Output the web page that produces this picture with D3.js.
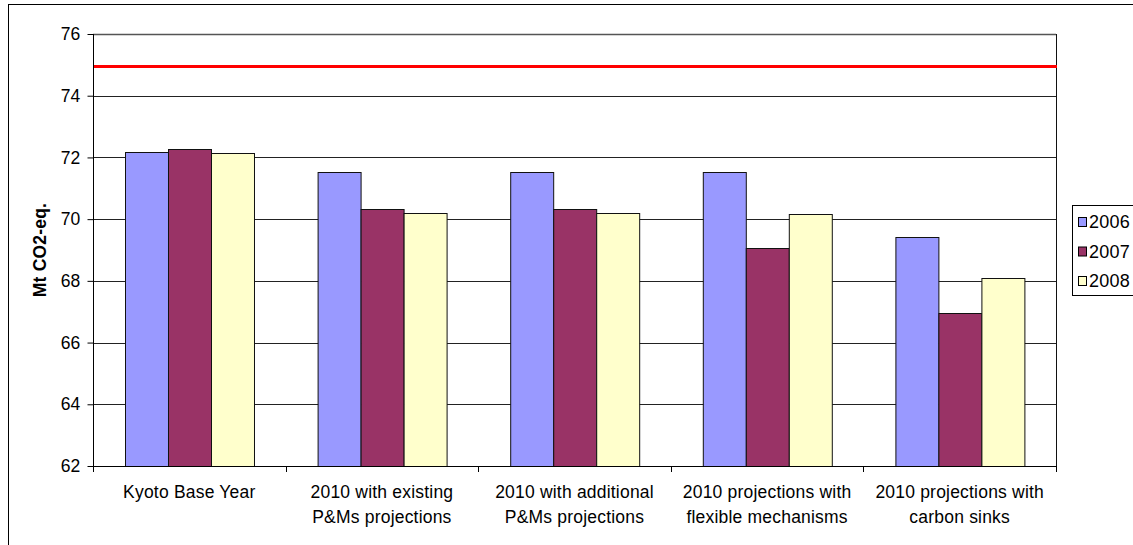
<!DOCTYPE html>
<html>
<head>
<meta charset="utf-8">
<script src="https://cdn.jsdelivr.net/npm/d3@7"></script>
<style>
    body { margin: 0; background: #fff; }
    #chart { width: 1133px; height: 545px; }
    text { font-family: "Liberation Sans", Arial, sans-serif; fill: #000; letter-spacing: 0.2px; }
</style>
</head>
<body>
<div id="chart"></div>
<script>
// Data
const categories = [
    ['Kyoto Base Year'],
    ['2010 with existing', 'P&Ms projections'],
    ['2010 with additional', 'P&Ms projections'],
    ['2010 projections with', 'flexible mechanisms'],
    ['2010 projections with', 'carbon sinks']
];
const seriesNames = ['2006', '2007', '2008'];
const values2006 = [72.19, 71.52, 71.52, 71.52, 69.41];
const values2007 = [72.27, 70.32, 70.32, 69.06, 66.95];
const values2008 = [72.14, 70.19, 70.19, 70.18, 68.09];
const kyotoTarget = 74.95;
const yTicks = [62, 64, 66, 68, 70, 72, 74, 76];

const colors = ['#9999ff', '#993366', '#ffffcc'];
const seriesValues = [values2006, values2007, values2008];

const W = 1133, H = 545;
const plot = { left: 93, right: 1056, top: 34, bottom: 466 };

const svg = d3.select('#chart')
    .append('svg')
    .attr('width', W)
    .attr('height', H);

// Outer chart border
svg.append('rect')
    .attr('x', 8.5)
    .attr('y', 4.5)
    .attr('width', W + 20)
    .attr('height', H + 20)
    .attr('fill', '#fff')
    .attr('stroke', '#000')
    .attr('stroke-width', 1);

// Scales
const x0 = d3.scaleBand()
    .domain(d3.range(categories.length))
    .range([plot.left, plot.right])
    .padding(0);

const x1 = d3.scaleBand()
    .domain(seriesNames)
    .range([0, x0.bandwidth()])
    .paddingInner(0)
    .paddingOuter(0.74);

const y = d3.scaleLinear()
    .domain([62, 76])
    .range([plot.bottom, plot.top]);

// Grid lines
svg.append('g')
    .selectAll('line')
    .data(yTicks.filter(d => d > 62))
    .enter()
    .append('line')
    .attr('x1', plot.left)
    .attr('x2', plot.right)
    .attr('y1', d => Math.round(y(d)) + 0.5)
    .attr('y2', d => Math.round(y(d)) + 0.5)
    .attr('stroke', d => d === 76 ? '#555' : '#222')
    .attr('stroke-width', d => d === 76 ? 1.5 : 1);

// Right border of plot area
svg.append('line')
    .attr('x1', plot.right + 0.5)
    .attr('x2', plot.right + 0.5)
    .attr('y1', plot.top)
    .attr('y2', plot.bottom)
    .attr('stroke', '#111');

// Bars
const groups = svg.append('g')
    .selectAll('g')
    .data(categories.map((c, i) => i))
    .enter()
    .append('g')
    .attr('transform', i => `translate(${x0(i)},0)`);

groups.selectAll('rect')
    .data(i => seriesNames.map((s, k) => ({ s, k, v: seriesValues[k][i] })))
    .enter()
    .append('rect')
    .attr('x', d => Math.round(x1(d.s)) + 0.5)
    .attr('y', d => Math.round(y(d.v)) + 0.5)
    .attr('width', x1.bandwidth())
    .attr('height', d => Math.round(y(62)) - Math.round(y(d.v)))
    .attr('fill', d => colors[d.k])
    .attr('stroke', '#111')
    .attr('stroke-width', 1);

// Kyoto target line
svg.append('line')
    .attr('x1', plot.left)
    .attr('x2', plot.right + 1)
    .attr('y1', y(kyotoTarget))
    .attr('y2', y(kyotoTarget))
    .attr('stroke', '#ff0000')
    .attr('stroke-width', 3);

// Y axis
const yAxis = svg.append('g')
    .attr('transform', `translate(${plot.left + 0.5},0)`)
    .call(d3.axisLeft(y).tickValues(yTicks).tickSize(6).tickPadding(7).tickFormat(d3.format('d')));
yAxis.select('.domain').attr('stroke', '#000').attr('d', `M0,${plot.top}V${plot.bottom + 6}`);
yAxis.selectAll('.tick line').attr('stroke', '#000');
yAxis.selectAll('.tick text')
    .style('font-size', '17.5px')
    .style('font-family', '"Liberation Sans", Arial, sans-serif');

// X axis line and ticks
svg.append('line')
    .attr('x1', plot.left)
    .attr('x2', plot.right + 1)
    .attr('y1', plot.bottom + 0.5)
    .attr('y2', plot.bottom + 0.5)
    .attr('stroke', '#000');

svg.append('g')
    .selectAll('line')
    .data(d3.range(categories.length + 1))
    .enter()
    .append('line')
    .attr('x1', i => Math.round(plot.left + i * x0.step()) + 0.5)
    .attr('x2', i => Math.round(plot.left + i * x0.step()) + 0.5)
    .attr('y1', plot.bottom)
    .attr('y2', plot.bottom + 6)
    .attr('stroke', '#000');

// Category labels
const labels = svg.append('g')
    .selectAll('text')
    .data(categories)
    .enter()
    .append('text')
    .attr('x', (d, i) => x0(i) + x0.bandwidth() / 2)
    .attr('y', 498)
    .attr('text-anchor', 'middle')
    .style('font-size', '17.5px');

labels.selectAll('tspan')
    .data(d => d)
    .enter()
    .append('tspan')
    .attr('x', function () { return d3.select(this.parentNode).attr('x'); })
    .attr('dy', (d, i) => i === 0 ? 0 : 25)
    .text(d => d);

// Y axis title
svg.append('text')
    .attr('transform', 'rotate(-90)')
    .attr('x', -(plot.top + plot.bottom) / 2)
    .attr('y', 46)
    .attr('text-anchor', 'middle')
    .style('font-size', '17.5px')
    .style('font-weight', 'bold')
    .text('Mt CO2-eq.');

// Legend
const legend = svg.append('g');
legend.append('rect')
    .attr('x', 1072.5)
    .attr('y', 205.5)
    .attr('width', 80)
    .attr('height', 90)
    .attr('fill', '#fff')
    .attr('stroke', '#000');

const legendRowY = d3.scalePoint()
    .domain(seriesNames)
    .range([222, 281]);

const items = legend.selectAll('g')
    .data(seriesNames)
    .enter()
    .append('g')
    .attr('transform', d => `translate(0,${legendRowY(d)})`);

items.append('rect')
    .attr('x', 1078.5)
    .attr('y', -4.5)
    .attr('width', 8)
    .attr('height', 9)
    .attr('fill', (d, i) => colors[i])
    .attr('stroke', '#000');

items.append('text')
    .attr('x', 1089)
    .attr('y', 0)
    .attr('dy', '0.36em')
    .style('font-size', '18px')
    .text(d => d);
</script>
</body>
</html>
